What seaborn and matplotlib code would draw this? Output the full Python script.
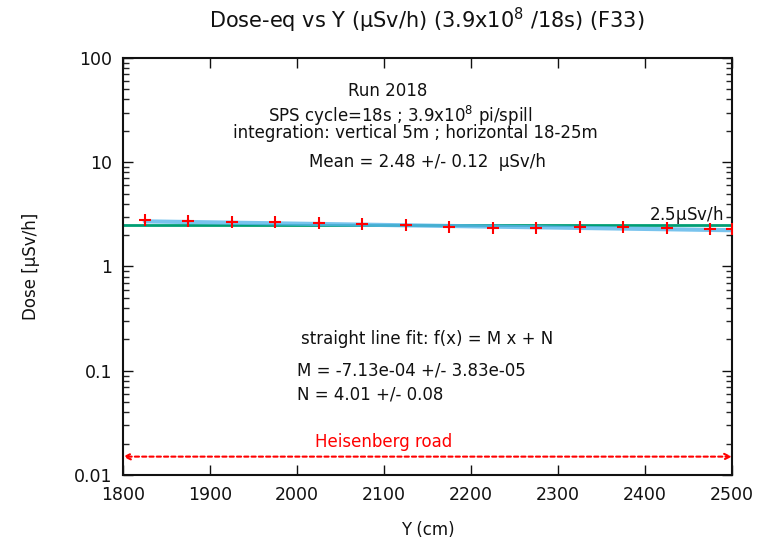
import numpy as np
import pandas as pd
import seaborn as sns
import matplotlib.pyplot as plt
from matplotlib.ticker import LogLocator, FixedLocator, NullFormatter

# measured dose vs Y position
y_pos = [1825, 1875, 1925, 1975, 2025, 2075, 2125, 2175, 2225, 2275, 2325, 2375, 2425, 2475, 2500]
dose = [2.77, 2.73, 2.69, 2.66, 2.63, 2.54, 2.50, 2.39, 2.32, 2.36, 2.39, 2.39, 2.36, 2.29, 2.27]

# straight line fit f(x) = M x + N
fit_M = -7.13e-04
fit_N = 4.01
limit = 2.5
road_level = 0.015

sns.set_style("ticks")
plt.rcParams['font.family'] = ['DejaVu Sans']
plt.rcParams['text.color'] = '#111111'

df = pd.DataFrame({'Y': y_pos, 'Dose': dose})
fit_x = np.array([y_pos[0], y_pos[-1]])
fit_df = pd.DataFrame({'Y': fit_x, 'Dose': fit_M * fit_x + fit_N})

fig = plt.figure(figsize=(7.62, 5.40), dpi=100)
ax = fig.add_axes([0.1614, 0.1204, 0.7992, 0.7722])

# 2.5 uSv/h limit
ax.plot([1800, 2500], [limit, limit], color='#009e73', lw=2, zorder=2)
# fit line
sns.lineplot(data=fit_df, x='Y', y='Dose', ax=ax, color='#56b4e9', lw=3, alpha=0.8, zorder=3)
# data points
ax.errorbar(df['Y'], df['Dose'], yerr=[d * 0.035 for d in dose], fmt='+', color='red',
            ms=8, mew=1.5, elinewidth=1.5, capsize=0, zorder=4)

# Heisenberg road
ax.annotate('', xy=(1800, road_level), xytext=(2500, road_level),
            arrowprops=dict(arrowstyle='<->', color='red', ls=(0, (2, 1.5)), lw=1.5,
                            shrinkA=0, shrinkB=0, mutation_scale=10))
ax.text(2100, 0.0205, 'Heisenberg road', color='red', ha='center', va='center', fontsize=12)

ax.text(2490, 3.1, r'2.5$\mathrm{\mu}$Sv/h', ha='right', va='center', fontsize=12)

ax.set_yscale('log')
ax.set_xlim(1800, 2500)
ax.set_ylim(0.01, 100)
ax.xaxis.set_major_locator(FixedLocator(np.arange(1800, 2501, 100)))
ax.yaxis.set_major_locator(FixedLocator([0.01, 0.1, 1, 10, 100]))
ax.set_yticklabels(['0.01', '0.1', '1', '10', '100'])
ax.yaxis.set_minor_locator(LogLocator(base=10, subs=np.arange(2, 10)))
ax.yaxis.set_minor_formatter(NullFormatter())
ax.tick_params(which='major', direction='in', length=7, width=1, top=True, right=True,
               labelsize=12.5, pad=8, colors='#111111')
ax.tick_params(which='minor', direction='in', length=4, width=1, top=False, right=True)
for s in ax.spines.values():
    s.set_linewidth(1.5)
    s.set_color('#111111')

ax.set_xlabel('Y (cm)', fontsize=12, labelpad=12, color='#111111')
ax.set_ylabel('Dose [µSv/h]', fontsize=12, labelpad=24, color='#111111')

fig.text(0.56, 0.963, 'Dose-eq vs Y (µSv/h) (3.9x10$^{8}$ /18s) (F33)', ha='center', va='center', fontsize=15)

tf = ax.transAxes
ax.text(0.435, 0.92, 'Run 2018', transform=tf, ha='center', va='center', fontsize=12)
ax.text(0.455, 0.862, 'SPS cycle=18s ; 3.9x10$^{8}$ pi/spill', transform=tf, ha='center', va='center', fontsize=12)
ax.text(0.48, 0.82, 'integration: vertical 5m ; horizontal 18-25m', transform=tf, ha='center', va='center', fontsize=12)
ax.text(0.50, 0.75, 'Mean = 2.48 +/- 0.12  µSv/h', transform=tf, ha='center', va='center', fontsize=12)
ax.text(0.50, 0.325, 'straight line fit: f(x) = M x + N', transform=tf, ha='center', va='center', fontsize=12)
ax.text(0.285, 0.25, 'M = -7.13e-04 +/- 3.83e-05', transform=tf, ha='left', va='center', fontsize=12)
ax.text(0.285, 0.193, 'N = 4.01 +/- 0.08', transform=tf, ha='left', va='center', fontsize=12)

fig.savefig('out.png', dpi=100)
